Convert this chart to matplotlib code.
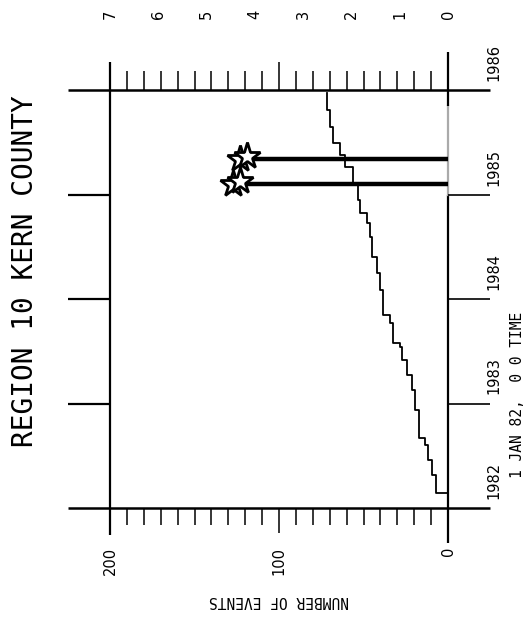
import matplotlib.pyplot as plt

# cumulative number of events vs time (decimal year)
event_times = [1982.03, 1982.14, 1982.32, 1982.46, 1982.60, 1982.67, 1982.94, 1983.13,
               1983.27, 1983.42, 1983.54, 1983.58, 1983.77, 1983.85, 1984.09, 1984.25,
               1984.40, 1984.59, 1984.73, 1984.82, 1984.95, 1985.09, 1985.26, 1985.38,
               1985.49, 1985.65, 1985.81, 1985.97]
event_counts = [0, 7.1, 9.6, 11.6, 13.6, 17.0, 19.5, 21.5,
                24.4, 27.4, 28.4, 32.4, 34.3, 38.3, 40.2, 42.2,
                45.1, 46.1, 48.1, 52.1, 53.1, 56.0, 61.0, 64.0,
                67.9, 69.8, 71.8, 71.8]

# large events: time, magnitude
big_times = [1985.10, 1985.34]
big_mags = [4.45, 4.30]

years = [1982, 1983, 1984, 1985, 1986]
count_labels = [0, 100, 200]
mag_labels = [0, 1, 2, 3, 4, 5, 6, 7]
count_ticks = list(range(0, 201, 10))

W, H = 530, 623
fig = plt.figure(figsize=(W / 100, H / 100), dpi=100)
ax = fig.add_axes([110 / W, 1 - 508 / H, (448 - 110) / W, (508 - 90) / H])
ax.set_xlim(200, 0)
ax.set_ylim(1982, 1986)
ax.axis('off')

px = 200 / 338.0   # counts per pixel
py = 4 / 418.0     # years per pixel
k = dict(color='black', clip_on=False, solid_capstyle='butt')

# frame
ax.plot([200, 200], [1986 + 28 * py, 1982 - 27 * py], lw=1.6, **k)
ax.plot([0, 0], [1982 - 35 * py, 1985.0], lw=1.6, **k)
ax.plot([0, 0], [1985.0, 1985.85], lw=1.6, color='#aaaaaa', clip_on=False)
ax.plot([0, 0], [1985.85, 1986 + 38 * py], lw=1.6, **k)
for y in years:
    if y in (1982, 1986):
        ax.plot([200 + 42 * px, -42 * px], [y, y], lw=1.8, **k)
    else:
        ax.plot([200 + 42 * px, 200], [y, y], lw=1.6, **k)
        ax.plot([0, -42 * px], [y, y], lw=1.2, **k)
    ax.text(-46 * px, y + 9 * py, str(y), rotation=90, ha='center', va='bottom',
            fontsize=10.5, family='DejaVu Sans')

# count ticks above and below the frame
for c in count_ticks:
    if c in (0, 200):
        continue
    top = 28 if c == 100 else 19
    bot = 25 if c == 100 else 17
    ax.plot([c, c], [1986, 1986 + top * py], lw=1.1, **k)
    ax.plot([c, c], [1982, 1982 - bot * py], lw=1.1, **k)

for c in count_labels:
    ax.text(c, 1982 - 39 * py, str(c), rotation=90, ha='center', va='top',
            fontsize=10.5, family='DejaVu Sans')
for m in mag_labels:
    ax.text(m * 200 / 7, 1986 + 76 * py, str(m), rotation=90, ha='center', va='center',
            fontsize=10.5, family='DejaVu Sans')

# cumulative curve
ax.plot(event_counts, event_times, drawstyle='steps-pre', color='black', lw=1.3)

# large events
for t, m in zip(big_times, big_mags):
    c = m * 200 / 7
    ax.plot([0, c], [t, t], color='black', lw=3.2, solid_capstyle='butt')
    ax.plot([c, c - 4], [t, t + 0.03], marker='*', ls='none', ms=20,
            mfc='white', mec='black', mew=2)

ax.text(-69 * px, 1982 + 113 * py, '1 JAN 82,  0 0 TIME', rotation=90, ha='center',
        va='center', fontsize=10.5, family='DejaVu Sans Mono')
ax.text(100, 1982 - 92 * py, 'NUMBER OF EVENTS', rotation=180, ha='center',
        va='center', fontsize=10.5, family='DejaVu Sans Mono')

fig.text(25 / W, 1 - 271 / H, 'REGION 10 KERN COUNTY', rotation=90, ha='center',
         va='center', fontsize=20, family='DejaVu Sans Mono')

plt.savefig('out.png', dpi=100)
